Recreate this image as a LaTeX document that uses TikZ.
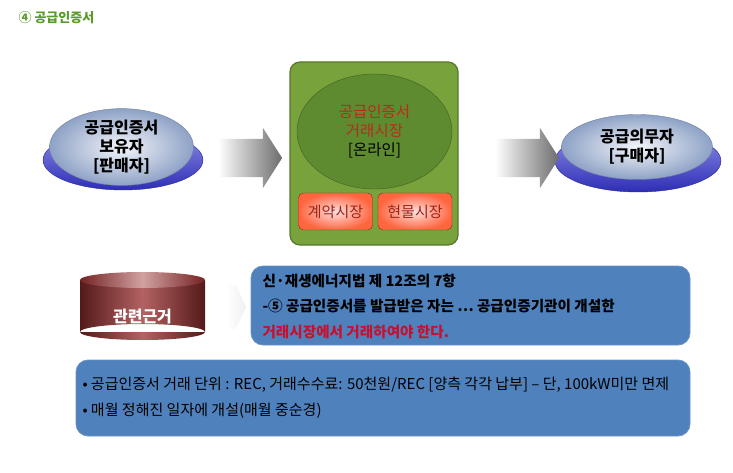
\documentclass[tikz,border=0pt]{standalone}
\usepackage{fontspec}
\setmainfont{Noto Sans CJK KR}
\usetikzlibrary{shapes,arrows.meta,positioning,calc}
\definecolor{titlegreen}{HTML}{5A9A2A}
\definecolor{mktgreen}{HTML}{78A23C}
\definecolor{mktedge}{HTML}{56782A}
\definecolor{mktoval}{HTML}{5E8A30}
\definecolor{mktred}{HTML}{B82C1C}
\definecolor{lawblue}{HTML}{4F81BD}
\definecolor{lawred}{HTML}{C8102E}
\definecolor{capblue}{HTML}{3636D6}
\definecolor{capgray}{HTML}{8EA2C6}
\definecolor{drumred}{HTML}{9A2E2E}

\begin{document}
\begin{tikzpicture}[x=1pt, y=-1pt,
  btntop/.style={ellipse, draw=capgray!80!black, inner color=white!90!capgray, outer color=capgray, inner sep=0pt, font=\fontsize{16}{19}\selectfont\bfseries, align=center},
  btnbase/.style={ellipse, draw=capblue!70!black, top color=capblue!55!white, bottom color=capblue!85!black, inner sep=0pt},
  bigarr/.style={single arrow, single arrow head extend=11pt, single arrow tip angle=115, inner xsep=0pt, inner ysep=19pt, minimum height=64pt, left color=white, right color=gray!85!black},
  mkt/.style={rectangle, rounded corners=5pt, draw=mktred!80!black, inner color=white!88!red, outer color=red!60!orange!75!white, minimum width=74pt, minimum height=37pt, font=\fontsize{15}{18}\selectfont, text=mktred!85!black},
  law/.style={rectangle, rounded corners=12pt, draw=lawblue!85!white, fill=lawblue, line width=0.8pt},
  lawtxt/.style={anchor=west, align=left, font=\fontsize{14.6}{25.5}\selectfont\bfseries}
]
  \useasboundingbox (0,0) rectangle (733,473);
  \node[anchor=west, text=titlegreen, font=\fontsize{13}{15}\selectfont\bfseries] (title) at (15,18) {④ 공급인증서};

  % seller / buyer
  \node[btnbase, minimum width=160pt, minimum height=60pt] (sellbase) at (123,160) {};
  \node[btntop, minimum width=144pt, minimum height=63pt] (sell) at (121.5,147) {공급인증서\\보유자\\{[판매자]}};
  \node[btnbase, minimum width=166pt, minimum height=62pt] (buybase) at (638,161) {};
  \node[btntop, minimum width=151pt, minimum height=65pt] (buy) at (637,147) {공급의무자\\{[구매자]}};

  % market
  \node[rectangle, rounded corners=10pt, draw=mktedge, fill=mktgreen, line width=1.2pt, minimum width=168pt, minimum height=183pt] (market) at (374,153.5) {};
  \node[ellipse, draw=mktedge!80!black, fill=mktoval, inner sep=0pt, minimum width=155pt, minimum height=115pt, align=center, font=\fontsize{15.5}{19}\selectfont] (online) at (374.5,131.5) {\textcolor{mktred}{공급인증서}\\\textcolor{mktred}{거래시장}\\{[온라인]}};
  \node[mkt] (contract) at (335.5,211.5) {계약시장};
  \node[mkt] (spot) at (415,211.5) {현물시장};

  \foreach \x/\n in {244/arr1, 521/arr2}{\node[bigarr] (\n) at (\x,158) {};}

  % basis
  \shade[left color=drumred!55!black, right color=drumred!55!black, middle color=drumred!75!white] (80,280) rectangle (205,332) (142.5,332) ellipse [x radius=62.5, y radius=8];
  \shade[left color=drumred!75!black, right color=drumred!75!black, middle color=drumred!45!white] (142.5,280) ellipse [x radius=62.5, y radius=8];
  \node[text=white, font=\fontsize{16}{19}\selectfont\bfseries] (basis) at (142.5,317) {관련근거};
  \node[single arrow, single arrow head extend=0pt, single arrow tip angle=130, inner xsep=0pt, inner ysep=22pt, minimum height=20pt, left color=white, right color=gray!12] (arr3) at (231,307) {};

  \node[law, minimum width=439pt, minimum height=79pt] (lawbox) at (470.5,305.5) {};
  \node[lawtxt] (lawtext) at (259,306.5) {신·재생에너지법 제 12조의 7항\\-⑤ 공급인증서를 발급받은 자는 … 공급인증기관이 개설한\\\textcolor{lawred}{거래시장에서 거래하여야 한다.}};
  \node[law, minimum width=614pt, minimum height=76pt] (notebox) at (383,398) {};
  \node[lawtxt, font=\fontsize{15}{26}\selectfont] (notetext) at (79,398) {• 공급인증서 거래 단위 : REC, 거래수수료: 50천원/REC [양측 각각 납부] – 단, 100kW미만 면제\\• 매월 정해진 일자에 개설(매월 중순경)};
\end{tikzpicture}
\end{document}
